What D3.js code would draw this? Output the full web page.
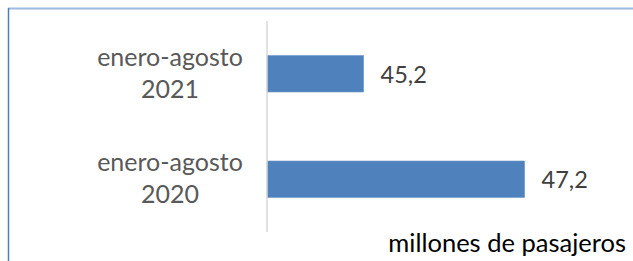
<!DOCTYPE html>
<html>
<head>
<meta charset="utf-8">
<script src="https://cdn.jsdelivr.net/npm/d3@7"></script>
<style>
  body { margin: 0; background: #fff; }
  svg { display: block; }
</style>
</head>
<body>
<div id="chart"></div>
<script>
// data
let periods = ["enero-agosto 2021", "enero-agosto 2020"]
let pasajeros = [45.2, 47.2]
let unitLabel = "millones de pasajeros"

let width = 633, height = 261

let svg = d3.select("#chart")
  .append("svg")
    .attr("width", width)
    .attr("height", height)
    .style("font-family", "Lato, 'Open Sans', sans-serif")

// chart frame (top and left edges only visible)
svg.append("line")
  .attr("x1", 8).attr("x2", width)
  .attr("y1", 8.5).attr("y2", 8.5)
  .attr("stroke", "#9dbbe0")
  .attr("stroke-width", 2)
svg.append("line")
  .attr("x1", 8.5).attr("x2", 8.5)
  .attr("y1", 8).attr("y2", height)
  .attr("stroke", "#4a7ebb")
  .attr("stroke-width", 1.5)

// scales
let x = d3.scaleLinear()
  .domain([44, 48])
  .range([267, 589])

let y = d3.scaleBand()
  .domain(periods)
  .range([21, 232])
  .paddingInner(0.654)
  .paddingOuter(0.327)

// bars
svg.selectAll(".bar")
  .data(periods)
  .enter()
  .append("rect")
    .attr("class", "bar")
    .attr("x", x(44))
    .attr("y", d => y(d))
    .attr("width", (d, i) => x(pasajeros[i]) - x(44))
    .attr("height", y.bandwidth())
    .attr("fill", "#4f81bd")
    .attr("stroke", "#6f97c8")
    .attr("stroke-width", 0.6)

// vertical axis line
svg.append("line")
  .attr("x1", x(44)).attr("x2", x(44))
  .attr("y1", 21).attr("y2", 232)
  .attr("stroke", "#d9d9d9")
  .attr("stroke-width", 1.5)

// category labels on two lines
let cat = svg.selectAll(".cat")
  .data(periods)
  .enter()
  .append("text")
    .attr("class", "cat")
    .attr("text-anchor", "middle")
    .attr("fill", "#595959")
    .style("font-size", "25px")

cat.append("tspan")
  .attr("x", 170)
  .attr("y", d => y(d) + y.bandwidth() / 2 - 8)
  .text(d => d.split(" ")[0])
cat.append("tspan")
  .attr("x", 170)
  .attr("y", d => y(d) + y.bandwidth() / 2 + 24)
  .text(d => d.split(" ")[1])

// value labels
svg.selectAll(".val")
  .data(periods)
  .enter()
  .append("text")
    .attr("class", "val")
    .attr("x", (d, i) => x(pasajeros[i]) + 17)
    .attr("y", d => y(d) + y.bandwidth() / 2 + 9)
    .attr("fill", "#404040")
    .style("font-size", "23.5px")
    .text((d, i) => d3.format(".1f")(pasajeros[i]).replace(".", ","))

// unit label
svg.append("text")
  .attr("x", 626)
  .attr("y", 252)
  .attr("text-anchor", "end")
  .attr("fill", "#000")
  .style("font-size", "25.5px")
  .text(unitLabel)
</script>
</body>
</html>
